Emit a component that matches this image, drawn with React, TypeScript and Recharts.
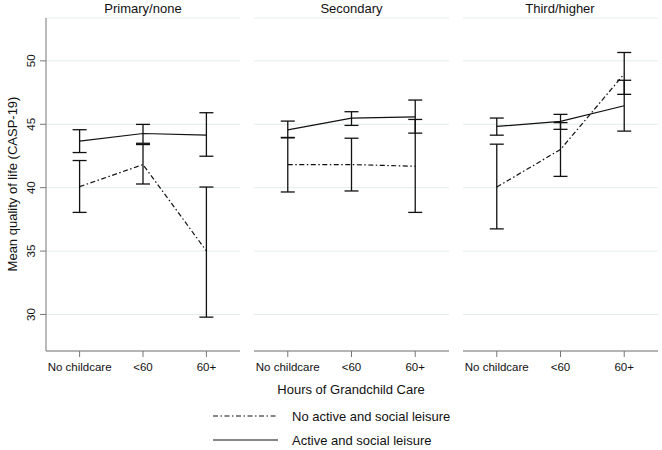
import React from 'react';
import { LineChart, Line, XAxis, YAxis, CartesianGrid, ErrorBar } from 'recharts';

const categories = ['No childcare', '<60', '60+'];
const panelTitles = ['Primary/none', 'Secondary', 'Third/higher'];
const yTicks = [30, 35, 40, 45, 50];

// one row per panel: Primary/none, Secondary, Third/higher
const noActiveMean = [
    [40.08, 41.82, 35.01],
    [41.82, 41.82, 41.69],
    [40.05, 43.01, 48.97],
];
const noActiveLow = [
    [38.05, 40.29, 29.79],
    [39.66, 39.74, 38.05],
    [36.75, 40.89, 47.36],
];
const noActiveHigh = [
    [42.14, 43.4, 40.05],
    [43.96, 43.9, 45.38],
    [43.43, 45.13, 50.66],
];
const activeMean = [
    [43.67, 44.27, 44.14],
    [44.56, 45.49, 45.59],
    [44.83, 45.23, 46.46],
];
const activeLow = [
    [42.77, 43.5, 42.48],
    [43.93, 44.91, 44.3],
    [44.14, 44.6, 44.46],
];
const activeHigh = [
    [44.57, 44.99, 45.91],
    [45.25, 45.99, 46.91],
    [45.49, 45.78, 48.47],
];

const FONT = '"Liberation Sans", Arial, sans-serif';
const AXIS = '#777';
const INK = '#111';
const DASHDOT = '5 2.5 1.5 2.5';

const buildRows = (p: number) =>
    categories.map((c, i) => ({
        x: i,
        name: c,
        noActive: noActiveMean[p][i],
        noActiveErr: [noActiveMean[p][i] - noActiveLow[p][i], noActiveHigh[p][i] - noActiveMean[p][i]],
        active: activeMean[p][i],
        activeErr: [activeMean[p][i] - activeLow[p][i], activeHigh[p][i] - activeMean[p][i]],
    }));

const YTick = (props: any) => {
    const { y, payload } = props;
    return (
        <text x={35} y={y} transform={`rotate(-90, 35, ${y})`} textAnchor="middle" fontSize={11.5} fill={INK}>
            {payload.value}
        </text>
    );
};

const Panel: React.FC<{ p: number; left: number; width: number; withAxis: boolean }> = ({ p, left, width, withAxis }) => (
    <div style={{ position: 'absolute', left, top: 0 }}>
        <LineChart width={width} height={380} data={buildRows(p)} margin={{ top: 18, right: 0, left: 0, bottom: 0 }}>
            <CartesianGrid vertical={false} stroke="#e3ecec" />
            <XAxis
                dataKey="x"
                type="number"
                domain={[-0.53, 2.53]}
                allowDataOverflow
                ticks={[0, 1, 2]}
                tickFormatter={(v: number) => categories[v]}
                height={29}
                tickSize={6}
                tickMargin={6}
                tick={{ fill: INK, fontSize: 11.5 }}
                tickLine={{ stroke: AXIS }}
                axisLine={{ stroke: AXIS }}
                interval={0}
            />
            <YAxis
                type="number"
                domain={[27.12, 53.38]}
                allowDataOverflow
                ticks={yTicks}
                hide={!withAxis}
                width={withAxis ? 46 : 0}
                tickSize={6}
                tick={<YTick />}
                tickLine={{ stroke: AXIS }}
                axisLine={{ stroke: AXIS }}
            />
            <Line type="linear" dataKey="noActive" stroke={INK} strokeWidth={1.2} strokeDasharray={DASHDOT} dot={false} isAnimationActive={false}>
                <ErrorBar dataKey="noActiveErr" direction="y" width={7} stroke={INK} strokeWidth={1.3} isAnimationActive={false} />
            </Line>
            <Line type="linear" dataKey="active" stroke={INK} strokeWidth={1.2} dot={false} isAnimationActive={false}>
                <ErrorBar dataKey="activeErr" direction="y" width={7} stroke={INK} strokeWidth={1.3} isAnimationActive={false} />
            </Line>
        </LineChart>
    </div>
);

export default function App() {
    const panelCenters = [143, 351.5, 560];
    return (
        <div style={{ position: 'absolute', left: 0, top: 0, width: 662, height: 450, background: '#fff', fontFamily: FONT }}>
            <Panel p={0} left={0} width={240} withAxis />
            <Panel p={1} left={254} width={195} withAxis={false} />
            <Panel p={2} left={463} width={195} withAxis={false} />
            <svg width={662} height={450} style={{ position: 'absolute', left: 0, top: 0, pointerEvents: 'none' }}>
                {panelTitles.map((t, i) => (
                    <text key={t} x={panelCenters[i]} y={13} textAnchor="middle" fontSize={13} fill={INK}>{t}</text>
                ))}
                <text x={17} y={184} transform="rotate(-90, 17, 184)" textAnchor="middle" fontSize={13} fill={INK}>
                    Mean quality of life (CASP-19)
                </text>
                <text x={351} y={394} textAnchor="middle" fontSize={13} fill={INK}>Hours of Grandchild Care</text>
                <line x1={213} x2={278} y1={416} y2={416} stroke={INK} strokeWidth={1.2} strokeDasharray={DASHDOT} />
                <text x={292} y={420.5} fontSize={13} fill={INK}>No active and social leisure</text>
                <line x1={213} x2={278} y1={440} y2={440} stroke={INK} strokeWidth={1.2} />
                <text x={292} y={444.5} fontSize={13} fill={INK}>Active and social leisure</text>
            </svg>
        </div>
    );
}
